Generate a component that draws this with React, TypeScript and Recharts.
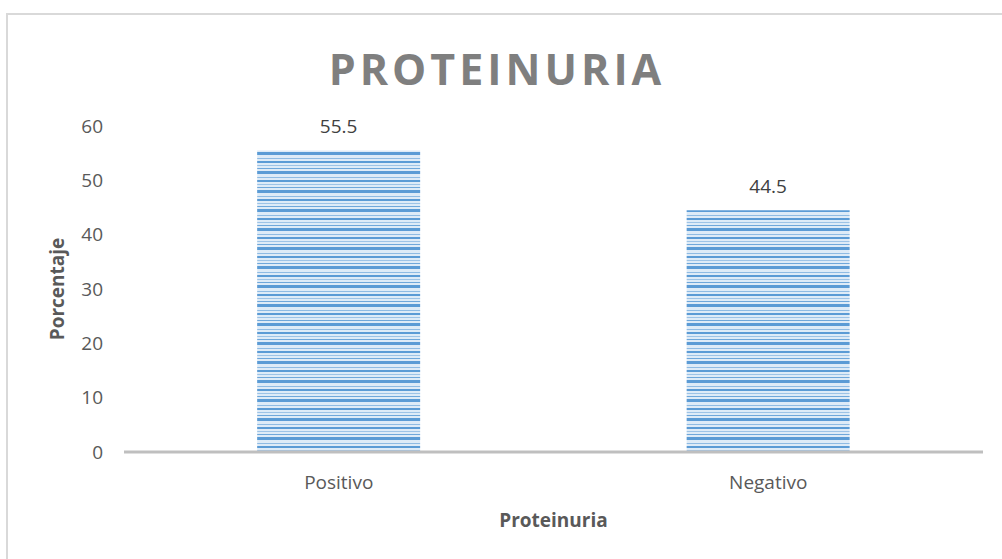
import { BarChart, Bar, XAxis, YAxis, LabelList, Label } from 'recharts';

const categories = ['Positivo', 'Negativo'];
const percentages = [55.5, 44.5];
const yTicks = [0, 10, 20, 30, 40, 50, 60];

const chartData = categories.map((name, i) => ({ name, value: percentages[i] }));

const FONT = '"Open Sans", Calibri, sans-serif';

export default function App() {
  return (
    <div style={{ position: 'absolute', left: 0, top: 0, width: 1002, height: 559, background: '#fff', overflow: 'hidden', fontFamily: FONT }}>
      {/* chart frame */}
      <div style={{ position: 'absolute', left: 6, top: 13, width: 1010, height: 560, border: '2px solid #d9d9d9', boxSizing: 'border-box' }} />
      <div style={{ position: 'absolute', left: 0, top: 39, width: 994, textAlign: 'center', fontSize: 43, fontWeight: 700, color: '#7f7f7f', letterSpacing: 4 }}>
        PROTEINURIA
      </div>
      <div style={{ position: 'absolute', left: 0, top: 0 }}>
        <BarChart width={1002} height={559} data={chartData} margin={{ top: 126, right: 19, bottom: 0, left: 0 }} barCategoryGap="31%">
          <defs>
            <pattern id="stripes" width="8" height="19" patternUnits="userSpaceOnUse">
              <rect x="0" y="0" width="8" height="19" fill="#deebf7" />
              <rect x="0" y="0" width="8" height="3" fill="#5b9bd5" />
              <rect x="0" y="6" width="8" height="1" fill="#8fbbe3" />
              <rect x="0" y="9" width="8" height="2" fill="#5b9bd5" />
              <rect x="0" y="13" width="8" height="1" fill="#9dc3e6" />
              <rect x="0" y="16" width="8" height="1" fill="#6fa7da" />
            </pattern>
          </defs>
          <XAxis
            dataKey="name"
            axisLine={{ stroke: '#bfbfbf', strokeWidth: 3 }}
            tickLine={false}
            tick={{ fill: '#595959', fontSize: 19, fontFamily: FONT }}
            tickMargin={18}
            height={107}
          >
            <Label value="Proteinuria" position="insideTop" offset={62} style={{ fill: '#595959', fontSize: 19, fontWeight: 700, fontFamily: FONT }} />
          </XAxis>
          <YAxis
            domain={[0, 60]}
            ticks={yTicks}
            axisLine={false}
            tickLine={false}
            tickSize={0}
            tickMargin={21}
            width={124}
            tick={{ fill: '#595959', fontSize: 19, fontFamily: FONT }}
          >
            <Label value="Porcentaje" angle={-90} position="insideLeft" offset={57} style={{ fill: '#595959', fontSize: 19, fontWeight: 700, fontFamily: FONT, textAnchor: 'middle' }} />
          </YAxis>
          <Bar dataKey="value" fill="url(#stripes)" isAnimationActive={false}>
            <LabelList dataKey="value" position="top" offset={17} style={{ fill: '#404040', fontSize: 19, fontFamily: FONT }} />
          </Bar>
        </BarChart>
      </div>
    </div>
  );
}
